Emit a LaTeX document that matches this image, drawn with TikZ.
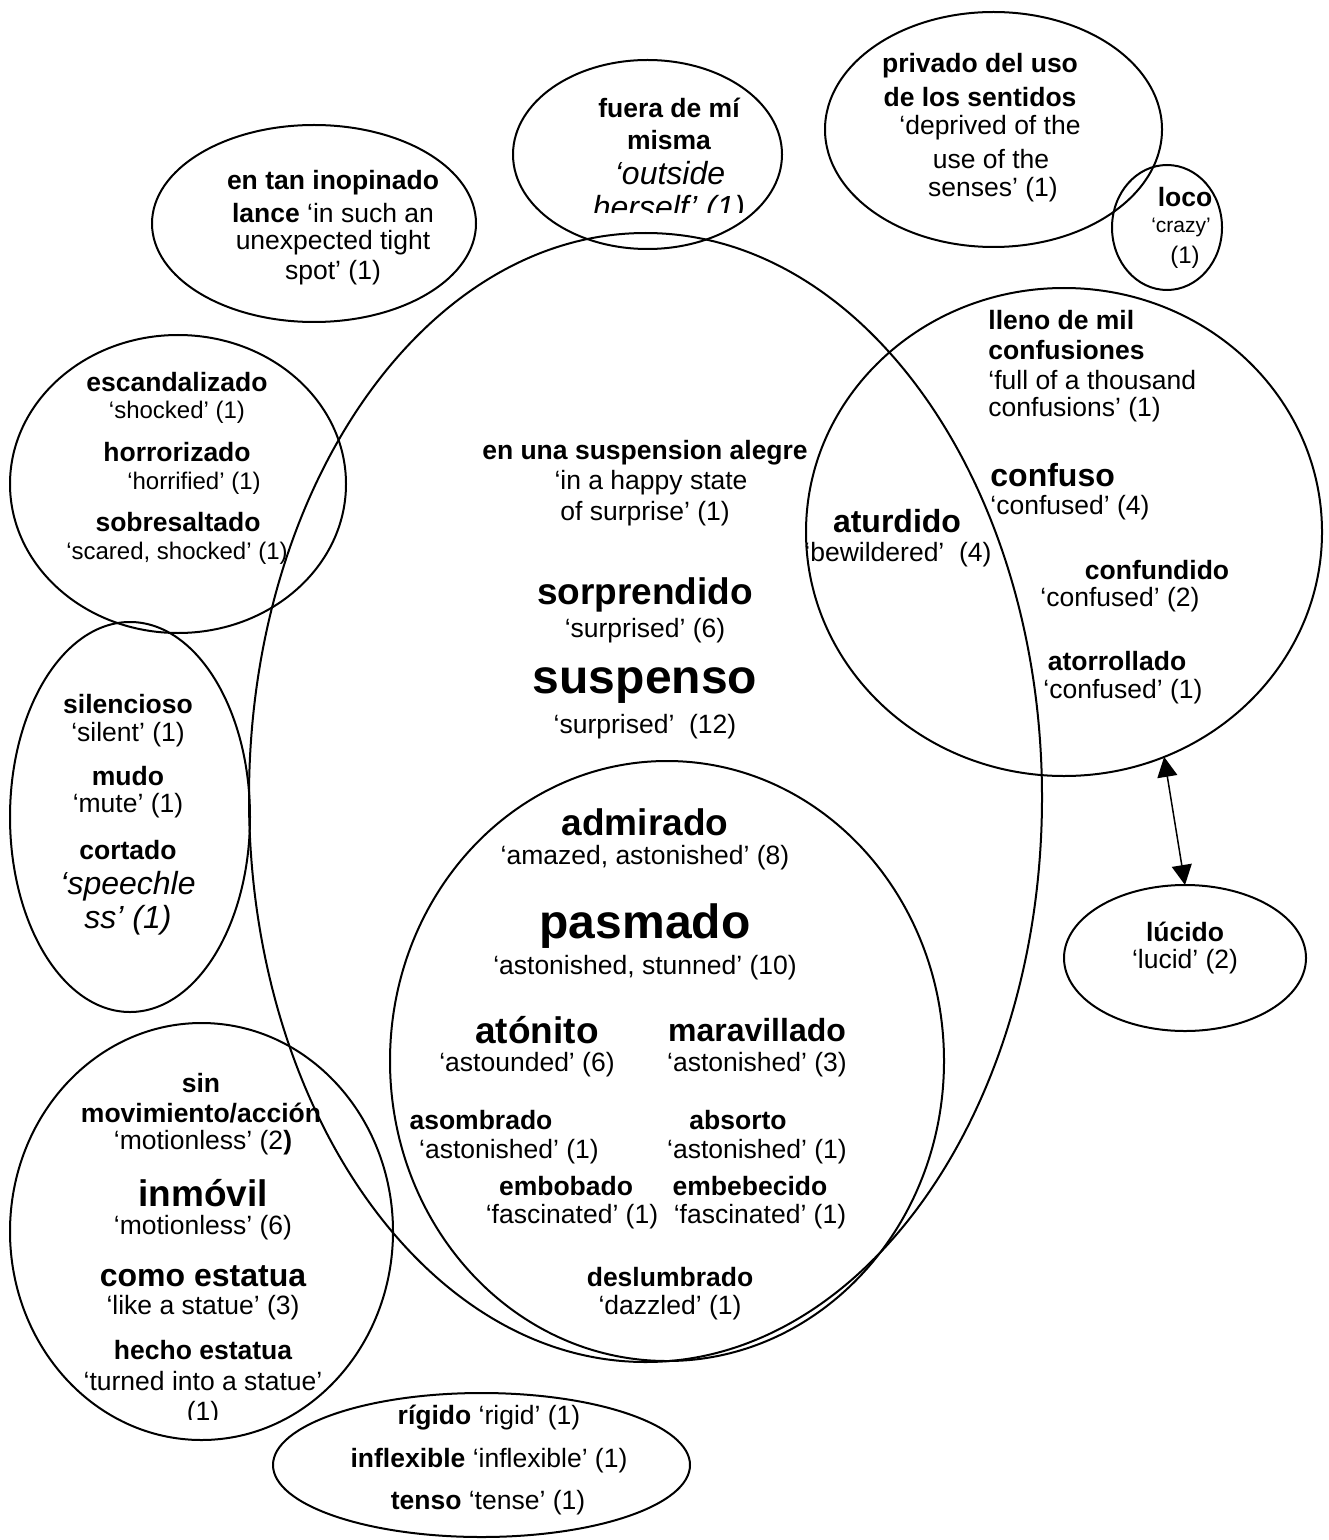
\documentclass[tikz,border=0pt]{standalone}
\usepackage{fontspec}
\setmainfont{Liberation Sans}
\usetikzlibrary{shapes.geometric,arrows.meta}
\tikzset{
	blob/.style={draw,ellipse,line width=1pt,inner sep=0pt,outer sep=0pt},
	hd/.style={font=\fontsize{13.25}{15}\selectfont\bfseries,inner sep=0pt},
	gl/.style={font=\fontsize{13.25}{15}\selectfont,inner sep=0pt},
	glsm/.style={font=\fontsize{12}{14}\selectfont,inner sep=0pt},
	gltiny/.style={font=\fontsize{10.5}{12}\selectfont,inner sep=0pt},
	hdhuge/.style={font=\fontsize{24}{28}\selectfont\bfseries,inner sep=0pt},
	hdbig/.style={font=\fontsize{18.5}{22}\selectfont\bfseries,inner sep=0pt},
	hdmid/.style={font=\fontsize{16}{19}\selectfont\bfseries,inner sep=0pt},
	itl/.style={font=\fontsize{16}{19}\selectfont\itshape,inner sep=0pt},
}

\begin{document}
\begin{tikzpicture}[x=0.5pt,y=-0.5pt]
				\useasboundingbox (0,0) rectangle (1328,1540);
				% ellipses
				\node[blob,minimum width=396.5pt,minimum height=564.5pt] (main) at (645.5,797.5) {};
				\node[blob,minimum width=277pt,minimum height=300pt] (admir) at (667,1061) {};
				\node[blob,minimum width=258pt,minimum height=244pt] (confus) at (1064,532) {};
				\node[blob,minimum width=162pt,minimum height=98.5pt] (lance) at (314,223.5) {};
				\node[blob,minimum width=134.5pt,minimum height=94.5pt] (fuera) at (647.5,154.5) {};
				\node[blob,minimum width=168.5pt,minimum height=117.5pt] (privado) at (993.5,129.5) {};
				\node[blob,minimum width=55pt,minimum height=62.5pt] (loco) at (1167,227.5) {};
				\node[blob,minimum width=168pt,minimum height=149pt] (escand) at (178,484) {};
				\node[blob,minimum width=120pt,minimum height=195pt] (silen) at (130,817) {};
				\node[blob,minimum width=191.5pt,minimum height=208.5pt] (inmov) at (201.5,1231.5) {};
				\node[blob,minimum width=208.5pt,minimum height=72pt] (rigido) at (481.5,1465) {};
				\node[blob,minimum width=121pt,minimum height=73pt] (lucido) at (1185,958) {};
				% double arrow
				\draw[line width=0.75pt,{Triangle[length=10pt,width=10pt]}-{Triangle[length=10pt,width=10pt]}] (confus.-66) -- (lucido.north);
				% bold heads
				\foreach \x/\y/\txt [count=\i] in {333/183/{en tan inopinado},669/108/{fuera de mí},669/140/misma,
					980/66/{privado del uso},980/97/{de los sentidos},1185/197/loco,
					177/382/escandalizado,177/452/horrorizado,178/522/sobresaltado,
					645/453/{en una suspension alegre},128/704/silencioso,128/776/mudo,128/850/cortado,
					201/1083/sin,201/1113/{movimiento/acción},203/1350/{hecho estatua},
					1157/570/confundido,1117/661/atorrollado,481/1120/asombrado,738/1120/absorto,
					566/1186/embobado,750/1186/embebecido,670/1277/deslumbrado,1185/932/lúcido}{
					\node[hd] (hd\i) at (\x,\y) {\txt};
				}
				% glosses
				\foreach \x/\y/\txt [count=\i] in {333/213/{\textbf{lance} `in such an},333/243/{unexpected tight},333/273/{spot' (1)},
					990/128/{`deprived of the},991/159/{use of the},993/190/{senses' (1)},
					651/483/{`in a happy state},645/514/{of surprise' (1)},
					645/631/{`surprised' (6)},645/727/{`surprised'\ \ (12)},
					645/858/{`amazed, astonished' (8)},645/968/{`astonished, stunned' (10)},
					527/1065/{`astounded' (6)},757/1065/{`astonished' (3)},
					509/1152/{`astonished' (1)},757/1152/{`astonished' (1)},
					572/1217/{`fascinated' (1)},760/1217/{`fascinated' (1)},670/1308/{`dazzled' (1)},
					898/555/{`bewildered'\ \ (4)},1120/600/{`confused' (2)},1123/692/{`confused' (1)},
					128/735/{`silent' (1)},128/806/{`mute' (1)},
					203/1143/{`motionless' (2\textbf{)}},203/1228/{`motionless' (6)},
					203/1308/{`like a statue' (3)},203/1381/{`turned into a statue'},
					489/1418/{\textbf{rígido} `rigid' (1)},489/1461/{\textbf{inflexible} `inflexible' (1)},
					488/1503/{\textbf{tenso} `tense' (1)},1185/962/{`lucid' (2)}}{
					\node[gl] (gl\i) at (\x,\y) {\txt};
				}
				% left aligned lines in the right circle
				\node[hd,anchor=west] (ll1) at (988,320) {lleno de mil};
				\node[hd,anchor=west] (ll2) at (988,350) {confusiones};
				\node[gl,anchor=west] (ll3) at (988,380) {`full of a thousand};
				\node[gl,anchor=west] (ll4) at (988,410) {confusions' (1)};
				\node[hdmid,anchor=west] (cf1) at (990,475) {confuso};
				\node[gl,anchor=west] (cf2) at (990,508) {`confused' (4)};
				% smaller glosses
				\foreach \x/\y/\txt [count=\i] in {177/412/{`shocked' (1)},194/483/{`horrified' (1)},
					177/553/{`scared, shocked' (1)},1185/257/{(1)}}{
					\node[glsm] (sm\i) at (\x,\y) {\txt};
				}
				\node[gltiny] (crazy) at (1181,227) {`crazy'};
				% larger heads
				\foreach \x/\y/\txt [count=\i] in {645/686/suspenso,645/926/pasmado}{
					\node[hdhuge] (hh\i) at (\x,\y) {\txt};
				}
				\foreach \x/\y/\txt [count=\i] in {645/595/sorprendido,645/822/admirado,537/1030/atónito,203/1193/inmóvil}{
					\node[hdbig] (hb\i) at (\x,\y) {\txt};
				}
				\foreach \x/\y/\txt [count=\i] in {757/1030/maravillado,203/1276/{como estatua},897/521/aturdido}{
					\node[hdmid] (hm\i) at (\x,\y) {\txt};
				}
				% italic glosses
				\node[itl] (fu3) at (670,173) {`outside};
				\node[itl] (co1) at (128,886) {`speechle};
				\node[itl] (co2) at (128,920) {ss' (1)};
				% cut off lines
				\begin{scope}
					\clip (540,150) rectangle (800,213);
					\node[itl] (fu4) at (669,210) {herself' (1)};
				\end{scope}
				\begin{scope}
					\clip (100,1390) rectangle (300,1419);
					\node[gl] (he3) at (203,1414) {(1)};
				\end{scope}
			\end{tikzpicture}
\end{document}
